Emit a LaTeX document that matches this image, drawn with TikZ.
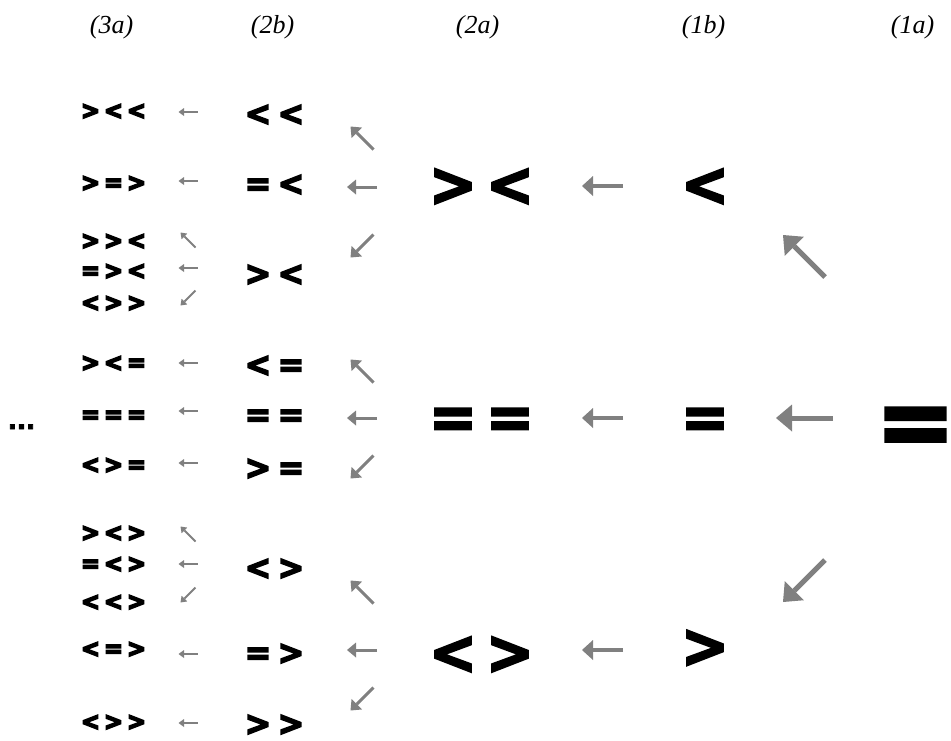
\documentclass[tikz,border=0pt]{standalone}
\usepackage{fontspec}
\usepackage{graphicx}
\setmainfont{Liberation Serif}
\newfontfamily\symfS{DejaVu Sans}[BoldFeatures={FakeBold=7}]
\newfontfamily\symfM{DejaVu Sans}[BoldFeatures={FakeBold=5}]
\newfontfamily\symfL{DejaVu Sans}[BoldFeatures={FakeBold=3.5}]
\usetikzlibrary{arrows.meta}

% one glyph per cell of fixed width, glyphs slightly narrowed
\def\symsx{0.93}
\newcommand\symrow[2]{\def\symp{#1}\symrowi#2\relax}
\def\symrowi#1{\ifx#1\relax\else\makebox[\symp]{\scalebox{\symsx}[1]{#1}}\expandafter\symrowi\fi}

\tikzset{
  every node/.style={inner sep=0pt, outer sep=0pt},
  lbl/.style={font=\itshape\fontsize{26}{28}\selectfont},
  symS/.style={font=\symfS\bfseries\fontsize{24.5}{26}\selectfont, anchor=base, yshift=-8.85pt},
  symM/.style={font=\symfM\bfseries\fontsize{33.5}{36}\selectfont, anchor=base, yshift=-12.05pt},
  symL/.style={font=\symfL\bfseries\fontsize{61.5}{66}\selectfont, anchor=base, yshift=-22.1pt},
  symXL/.style={font=\symfL\bfseries\fontsize{98}{104}\selectfont, anchor=base, yshift=-35.3pt},
  dotsty/.style={font=\symfL\bfseries\fontsize{24}{26}\selectfont, anchor=base, yshift=-2pt},
  arS/.style={draw=gray, line width=1.8pt, -{Triangle[length=5.5pt,width=8pt,line width=0pt]}},
  arM/.style={draw=gray, line width=3pt, -{Triangle[length=9pt,width=15pt,line width=0pt]}},
  arL/.style={draw=gray, line width=4pt, -{Triangle[length=11pt,width=20pt,line width=0pt]}},
  arXL/.style={draw=gray, line width=5pt, -{Triangle[length=16pt,width=27pt,line width=0pt]}},
}
% arrows: style, centre x, centre y, size
\newcommand\arW[4]{\draw[#1] ({#2+#4/2},#3) -- ({#2-#4/2},#3);}
\newcommand\arNW[4]{\draw[#1] ({#2+#4/2},{#3+#4/2}) -- ({#2-#4/2},{#3-#4/2});}
\newcommand\arSW[4]{\draw[#1] ({#2+#4/2},{#3-#4/2}) -- ({#2-#4/2},{#3+#4/2});}

\begin{document}
\begin{tikzpicture}[x=1pt,y=-1pt]
\useasboundingbox (0,0) rectangle (951,740);

% column headings
\node[lbl] (h3a) at (111.5,27) {(3a)};
\node[lbl] (h2b) at (272.5,27) {(2b)};
\node[lbl] (h2a) at (477.5,27) {(2a)};
\node[lbl] (h1b) at (703.5,27) {(1b)};
\node[lbl] (h1a) at (912.5,27) {(1a)};

% column (3a)
\node[symS] (a1)  at (113.5,110) {\symrow{23pt}{><<}};
\node[symS] (a2)  at (113.5,182) {\symrow{23pt}{>=>}};
\node[symS] (a3)  at (113.5,240) {\symrow{23pt}{>><}};
\node[symS] (a4)  at (113.5,270) {\symrow{23pt}{=><}};
\node[symS] (a5)  at (113.5,302) {\symrow{23pt}{<>>}};
\node[symS] (a6)  at (113.5,362) {\symrow{23pt}{><=}};
\node[symS] (a7)  at (113.5,414) {\symrow{23pt}{===}};
\node[symS] (a8)  at (113.5,464) {\symrow{23pt}{<>=}};
\node[symS] (a9)  at (113.5,532) {\symrow{23pt}{><>}};
\node[symS] (a10) at (113.5,563) {\symrow{23pt}{=<>}};
\node[symS] (a11) at (113.5,601) {\symrow{23pt}{<<>}};
\node[symS] (a12) at (113.5,648) {\symrow{23pt}{<=>}};
\node[symS] (a13) at (113.5,721) {\symrow{23pt}{<>>}};
\node[dotsty] (dots) at (21.5,427) {...};

% column (2b)
\node[symM] (b1) at (274.5,113) {\symrow{33pt}{<<}};
\node[symM] (b2) at (274.5,183) {\symrow{33pt}{=<}};
\node[symM] (b3) at (274.5,273) {\symrow{33pt}{><}};
\node[symM] (b4) at (274.5,364) {\symrow{33pt}{<=}};
\node[symM] (b5) at (274.5,414) {\symrow{33pt}{==}};
\node[symM] (b6) at (274.5,467) {\symrow{33pt}{>=}};
\node[symM] (b7) at (274.5,567) {\symrow{33pt}{<>}};
\node[symM] (b8) at (274.5,652) {\symrow{33pt}{=>}};
\node[symM] (b9) at (274.5,723) {\symrow{33pt}{>>}};

% column (2a)
\node[symL] (c1) at (481.5,183.5) {\symrow{57pt}{><}};
\node[symL] (c2) at (481.5,416) {\symrow{57pt}{==}};
\node[symL] (c3) at (481.5,651.5) {\symrow{57pt}{<>}};

% column (1b)
\node[symL] (d1) at (705,183.5) {\symrow{45pt}{<}};
\node[symL] (d2) at (705,416) {\symrow{45pt}{=}};
\node[symL] (d3) at (705,645) {\symrow{45pt}{>}};

% column (1a)
\node[symXL] (e1) at (915.5,420) {\def\symsx{0.96}\symrow{64pt}{=}};

% small arrows (3a) <- (2b)
\arW{arS}{188}{112}{19}
\arW{arS}{188}{181}{19}
\arNW{arS}{188}{240}{15}
\arW{arS}{188}{268}{19}
\arSW{arS}{188}{298}{15}
\arW{arS}{188}{363}{19}
\arW{arS}{188}{411}{19}
\arW{arS}{188}{463}{19}
\arNW{arS}{188}{534}{15}
\arW{arS}{188}{564}{19}
\arSW{arS}{188}{595}{15}
\arW{arS}{188}{654}{19}
\arW{arS}{188}{723}{19}

% arrows (2b) <- (2a)
\arNW{arM}{362}{138}{23}
\arW{arM}{362}{187}{30}
\arSW{arM}{362}{246}{23}
\arNW{arM}{362}{371}{23}
\arW{arM}{362}{418}{30}
\arSW{arM}{362}{467}{23}
\arNW{arM}{362}{592}{23}
\arW{arM}{362}{650}{30}
\arSW{arM}{362}{699}{23}

% arrows (2a) <- (1b)
\arW{arL}{602.5}{186}{41}
\arW{arL}{602.5}{418}{41}
\arW{arL}{602.5}{650}{41}

% arrows (1b) <- (1a)
\arNW{arXL}{804}{256}{42}
\arW{arXL}{804.5}{418}{57}
\arSW{arXL}{804}{581}{42}
\end{tikzpicture}
\end{document}
